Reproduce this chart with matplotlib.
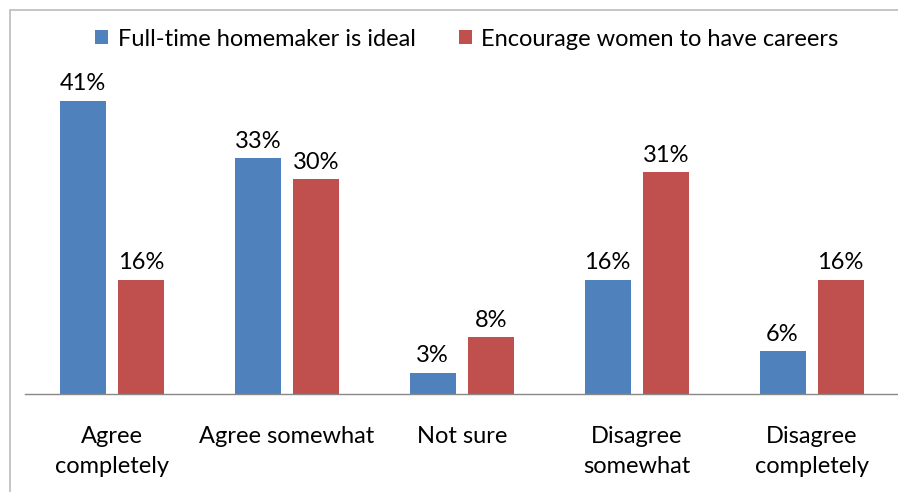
import numpy as np
import matplotlib.pyplot as plt
from matplotlib.patches import Rectangle

categories = ['Agree\ncompletely', 'Agree somewhat', 'Not sure', 'Disagree\nsomewhat', 'Disagree\ncompletely']
series_names = ['Full-time homemaker is ideal', 'Encourage women to have careers']
homemaker = [41, 33, 3, 16, 6]
careers = [16, 30, 8, 31, 16]
colors = ['#4F81BD', '#C0504D']

plt.rcParams['font.family'] = ['Lato', 'DejaVu Sans']

fig = plt.figure(figsize=(8.98, 4.92), dpi=100)
# chart border (only top and left visible in the original crop)
fig.patches.append(Rectangle((10 / 898, -0.1), 1.2, (482 / 492) + 0.1, transform=fig.transFigure,
                             fill=False, edgecolor='#BBBBBB', linewidth=1.2))

ax = fig.add_axes([24.5 / 898, 98 / 492, 874.5 / 898, 322 / 492])
x = np.arange(len(categories))
w = 0.263
off = 0.166
for vals, c, dx, name in [(homemaker, colors[0], -off, series_names[0]),
                          (careers, colors[1], off, series_names[1])]:
    bars = ax.bar(x + dx, vals, width=w, color=c, label=name)
    for b, v in zip(bars, vals):
        ax.annotate(f'{v}%', (b.get_x() + b.get_width() / 2, v), xytext=(0, 4.5),
                    textcoords='offset points', ha='center', va='bottom', fontsize=17)

ax.set_xlim(-0.5, 4.5)
ax.set_ylim(0, 45)
ax.set_yticks([])
ax.set_xticks(x)
ax.set_xticklabels(categories, fontsize=17, linespacing=1.55)
ax.tick_params(axis='x', length=0, pad=23)
for s in ['top', 'right', 'left']:
    ax.spines[s].set_visible(False)
ax.spines['bottom'].set_color('#888888')
ax.spines['bottom'].set_linewidth(1.0)

fig.legend(loc='upper center', bbox_to_anchor=(0.52, 0.985), ncol=2, frameon=False,
           fontsize=17, handlelength=0.55, handleheight=0.55, handletextpad=0.42,
           columnspacing=1.8)

fig.savefig('out.png', dpi=100)
